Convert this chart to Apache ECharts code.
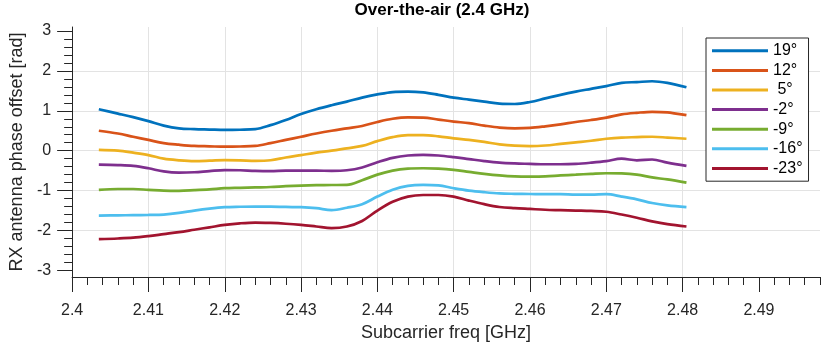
<!DOCTYPE html>
<html>
<head>
<meta charset="utf-8">
<script src="https://cdn.jsdelivr.net/npm/echarts@6/dist/echarts.min.js"></script>
<style>
  html, body { margin: 0; padding: 0; background: #fff; }
  #chart { width: 831px; height: 349px; }
</style>
</head>
<body>
<div id="chart"></div>
<script>
// ---- data ----
const freqs = [2.4035, 2.406, 2.408, 2.410, 2.412, 2.414, 2.416, 2.418, 2.420, 2.422,
               2.424, 2.426, 2.428, 2.430, 2.432, 2.434, 2.436, 2.438, 2.440, 2.442,
               2.444, 2.446, 2.448, 2.450, 2.452, 2.454, 2.456, 2.458, 2.460, 2.462,
               2.464, 2.466, 2.468, 2.470, 2.472, 2.474, 2.476, 2.478, 2.4805];

const seriesNames = ['19°', '12°', ' 5°', '-2°', '-9°', '-16°', '-23°'];

const s19 = [1.04, 0.93, 0.84, 0.74, 0.63, 0.56, 0.54, 0.53, 0.52, 0.525,
             0.54, 0.64, 0.77, 0.92, 1.04, 1.14, 1.23, 1.33, 1.41, 1.47,
             1.48, 1.46, 1.40, 1.33, 1.28, 1.23, 1.18, 1.17, 1.22, 1.31,
             1.40, 1.48, 1.55, 1.62, 1.70, 1.72, 1.74, 1.70, 1.59];
const s12 = [0.50, 0.43, 0.35, 0.27, 0.19, 0.15, 0.12, 0.11, 0.10, 0.105,
             0.12, 0.19, 0.27, 0.35, 0.43, 0.50, 0.56, 0.62, 0.72, 0.80,
             0.835, 0.83, 0.78, 0.73, 0.69, 0.63, 0.58, 0.56, 0.57, 0.61,
             0.66, 0.72, 0.77, 0.83, 0.91, 0.95, 0.975, 0.96, 0.89];
const s5 = [0.02, 0.0, -0.05, -0.11, -0.20, -0.24, -0.26, -0.25, -0.235, -0.24,
            -0.255, -0.24, -0.17, -0.11, -0.05, 0.0, 0.06, 0.12, 0.24, 0.34,
            0.39, 0.39, 0.36, 0.31, 0.27, 0.22, 0.16, 0.125, 0.115, 0.13,
            0.17, 0.21, 0.25, 0.30, 0.33, 0.34, 0.35, 0.33, 0.30];
const sm2 = [-0.35, -0.36, -0.38, -0.44, -0.52, -0.55, -0.54, -0.51, -0.485, -0.49,
             -0.505, -0.51, -0.50, -0.50, -0.50, -0.505, -0.49, -0.42, -0.29, -0.18,
             -0.12, -0.105, -0.12, -0.16, -0.21, -0.26, -0.30, -0.32, -0.33, -0.34,
             -0.34, -0.33, -0.30, -0.26, -0.20, -0.24, -0.22, -0.30, -0.38];
const sm9 = [-0.98, -0.96, -0.96, -0.98, -1.00, -1.005, -0.99, -0.97, -0.94, -0.93,
             -0.92, -0.91, -0.89, -0.875, -0.865, -0.86, -0.855, -0.74, -0.60, -0.50,
             -0.45, -0.44, -0.45, -0.48, -0.53, -0.58, -0.62, -0.645, -0.65, -0.645,
             -0.62, -0.60, -0.58, -0.565, -0.57, -0.60, -0.67, -0.72, -0.80];
const sm16 = [-1.625, -1.62, -1.615, -1.61, -1.60, -1.56, -1.50, -1.45, -1.415, -1.405,
              -1.40, -1.40, -1.41, -1.415, -1.44, -1.49, -1.43, -1.34, -1.15, -0.98,
              -0.88, -0.855, -0.87, -0.94, -1.00, -1.04, -1.07, -1.08, -1.085, -1.09,
              -1.09, -1.10, -1.10, -1.09, -1.15, -1.22, -1.31, -1.37, -1.415];
const sm23 = [-2.215, -2.20, -2.18, -2.14, -2.09, -2.04, -1.98, -1.92, -1.86, -1.82,
              -1.80, -1.81, -1.83, -1.86, -1.90, -1.94, -1.90, -1.76, -1.50, -1.28,
              -1.15, -1.11, -1.11, -1.15, -1.25, -1.34, -1.41, -1.44, -1.46, -1.48,
              -1.49, -1.50, -1.51, -1.53, -1.60, -1.68, -1.77, -1.84, -1.90];

const xMajorTicks = [2.40, 2.41, 2.42, 2.43, 2.44, 2.45, 2.46, 2.47, 2.48, 2.49];
const yMajorTicks = [-3, -2, -1, 0, 1, 2, 3];

// ---- build ----
const allValues = [s19, s12, s5, sm2, sm9, sm16, sm23];
const colors = ['#0072BD', '#D95319', '#EDB120', '#7E2F8E', '#77AC30', '#4DBEEE', '#A2142F'];

const xMinorTicks = [];
for (let i = 0; i <= 49; i++) {
  if (i % 5 !== 0) xMinorTicks.push(+(2.4 + i * 0.002).toFixed(3));
}
const yMinorTicks = [];
for (let i = -15; i <= 15; i++) {
  if (i % 5 !== 0) yMinorTicks.push(+(i * 0.2).toFixed(1));
}

const FONT = 'Liberation Sans, Arial, Helvetica, sans-serif';
const AX = '#262626';
const XMIN = 2.4, XMAX = 2.498, YMIN = -3.165, YMAX = 3.1;

const chart = echarts.init(document.getElementById('chart'), null, { renderer: 'canvas' });

const series = allValues.map((vals, k) => ({
  name: seriesNames[k],
  type: 'line',
  xAxisIndex: 0,
  yAxisIndex: 0,
  data: freqs.map((f, i) => [f, vals[i]]),
  showSymbol: false,
  smooth: 0.35,
  lineStyle: { width: 2.7, color: colors[k] },
  itemStyle: { color: colors[k] },
  emphasis: { disabled: true }
}));

chart.setOption({
  animation: false,
  backgroundColor: '#fff',
  title: {
    text: 'Over-the-air (2.4 GHz)',
    left: 442,
    top: 2,
    textAlign: 'center',
    padding: 0,
    textStyle: { fontFamily: FONT, fontSize: 17, fontWeight: 'bold', color: '#000' }
  },
  grid: { left: 65, right: 11, top: 27, bottom: 72, containLabel: false },
  legend: {
    orient: 'vertical',
    left: 706,
    top: 38,
    padding: [3, 6, 3, 6],
    itemGap: 0,
    itemWidth: 56,
    itemHeight: 3,
    icon: 'rect',
    backgroundColor: '#fff',
    borderColor: AX,
    borderWidth: 1,
    selectedMode: false,
    textStyle: { fontFamily: FONT, fontSize: 16, color: '#000', lineHeight: 19.6 },
    data: seriesNames
  },
  xAxis: [
    {
      type: 'value', min: XMIN, max: XMAX, position: 'bottom',
      name: 'Subcarrier freq [GHz]', nameLocation: 'middle', nameGap: 44,
      nameTextStyle: { fontFamily: FONT, fontSize: 18, color: AX },
      axisLine: { show: true, onZero: false, lineStyle: { color: AX, width: 1 } },
      axisTick: { show: true, inside: false, length: 15, customValues: xMajorTicks,
                  lineStyle: { color: AX, width: 1 } },
      axisLabel: { show: true, customValues: xMajorTicks, margin: 26,
                   fontFamily: FONT, fontSize: 16, color: AX,
                   formatter: v => String(+v.toFixed(2)) },
      splitLine: { show: true, showMinLine: false, showMaxLine: false,
                   lineStyle: { color: '#e3e3e3', width: 1 } },
      minorTick: { show: false }
    },
    {
      type: 'value', min: XMIN, max: XMAX, position: 'bottom', offset: 0,
      axisLine: { show: false, onZero: false },
      axisTick: { show: true, inside: false, length: 8, customValues: xMinorTicks,
                  lineStyle: { color: AX, width: 1 } },
      axisLabel: { show: false },
      splitLine: { show: false }
    }
  ],
  yAxis: [
    {
      type: 'value', min: YMIN, max: YMAX, position: 'left',
      name: 'RX antenna phase offset [rad]', nameLocation: 'middle', nameGap: 43,
      nameTextStyle: { fontFamily: FONT, fontSize: 18, color: AX },
      axisLine: { show: true, onZero: false, lineStyle: { color: AX, width: 1 } },
      axisTick: { show: true, inside: false, length: 15, customValues: yMajorTicks,
                  lineStyle: { color: AX, width: 1 } },
      axisLabel: { show: true, customValues: yMajorTicks, margin: 21,
                   fontFamily: FONT, fontSize: 16, color: AX,
                   formatter: v => String(Math.round(v)) },
      splitLine: { show: true, showMinLine: false, showMaxLine: false,
                   lineStyle: { color: '#e3e3e3', width: 1 } }
    },
    {
      type: 'value', min: YMIN, max: YMAX, position: 'left', offset: 0,
      axisLine: { show: false, onZero: false },
      axisTick: { show: true, inside: false, length: 8, customValues: yMinorTicks,
                  lineStyle: { color: AX, width: 1 } },
      axisLabel: { show: false },
      splitLine: { show: false }
    }
  ],
  series: series
});
</script>
</body>
</html>
